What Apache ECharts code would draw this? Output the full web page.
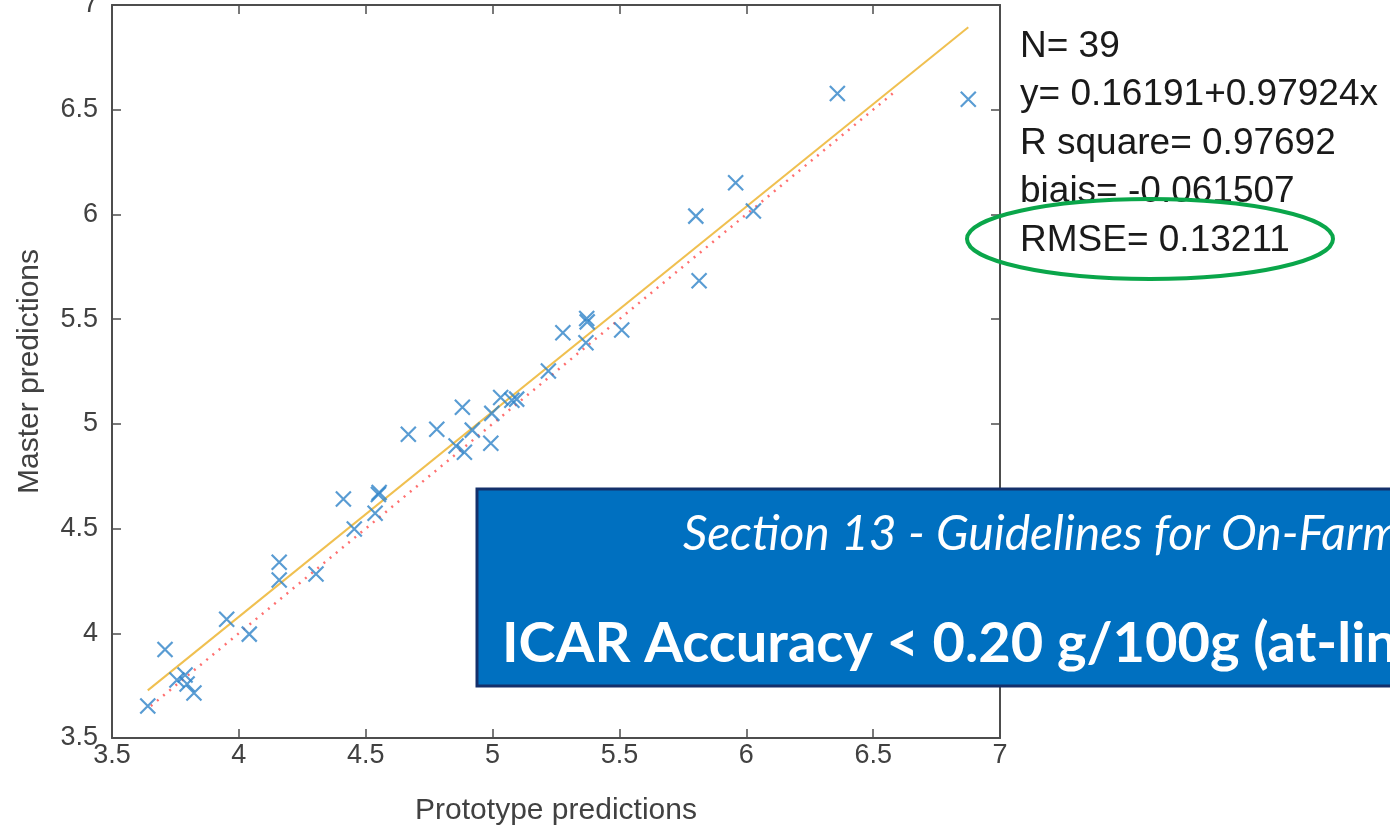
<!DOCTYPE html>
<html>
<head>
<meta charset="utf-8">
<title>Master vs Prototype predictions</title>
<script src="https://cdn.jsdelivr.net/npm/echarts@6/dist/echarts.min.js"></script>
<style>
  html, body { margin: 0; padding: 0; background: #fff; }
  #chart { width: 1390px; height: 828px; }
</style>
</head>
<body>
<div id="chart"></div>
<script>
  // prototype (x) vs master (y) predictions
  const prototypeValues = [
    3.641, 3.709, 3.952, 4.041, 3.756, 3.788, 3.796, 3.823,
    4.159, 4.159, 4.304, 4.455, 4.537, 4.550, 4.553, 4.412,
    4.668, 4.780, 4.881, 4.920, 4.856, 4.889, 4.993, 4.997,
    5.032, 5.076, 5.095, 5.220, 5.277, 5.368, 5.371, 5.373,
    5.509, 5.801, 5.814, 5.958, 6.028, 6.359, 6.875
  ]
  const masterValues = [
    3.653, 3.923, 4.067, 3.996, 3.777, 3.801, 3.758, 3.715,
    4.339, 4.254, 4.283, 4.498, 4.573, 4.663, 4.672, 4.641,
    4.950, 4.974, 5.079, 4.970, 4.894, 4.864, 4.907, 5.050,
    5.126, 5.113, 5.118, 5.252, 5.435, 5.387, 5.503, 5.487,
    5.448, 5.992, 5.683, 6.151, 6.016, 6.577, 6.550
  ]
  const fitIntercept = 0.16191
  const fitSlope = 0.97924
  const statLines = [
    'N= 39',
    'y= 0.16191+0.97924x',
    'R square= 0.97692',
    'biais= -0.061507',
    'RMSE= 0.13211'
  ]

  const points = prototypeValues.map((x, i) => [x, masterValues[i]])
  const xMin = Math.min(...prototypeValues)
  const xMax = Math.max(...prototypeValues)
  const yMin = Math.min(...masterValues)
  const yMax = Math.max(...masterValues)
  const fitLine = [
    [xMin, fitIntercept + fitSlope * xMin],
    [xMax, fitIntercept + fitSlope * xMax]
  ]
  const identityLine = [[yMin, yMin], [yMax, yMax]]

  const axisColor = '#4d4d4d'
  const fontName = 'Liberation Sans, Arial, sans-serif'
  const labelFont = { color: '#414141', fontSize: 27, fontFamily: fontName }
  const nameFont = { color: '#414141', fontSize: 30, fontFamily: fontName }

  const baseAxis = {
    type: 'value',
    min: 3.5,
    max: 7,
    interval: 0.5,
    splitLine: { show: false },
    axisLine: { show: true, onZero: false, lineStyle: { color: axisColor, width: 2 } },
    axisTick: { show: true, inside: true, length: 9, lineStyle: { color: axisColor, width: 1.5 } }
  }

  const chart = echarts.init(document.getElementById('chart'))
  chart.setOption({
    animation: false,
    backgroundColor: '#fff',
    grid: { left: 112, right: 390, top: 5, bottom: 90, containLabel: false, outerBoundsMode: 'none' },
    xAxis: [
      Object.assign({}, baseAxis, {
        position: 'bottom',
        name: 'Prototype predictions',
        nameLocation: 'middle',
        nameGap: 58,
        nameTextStyle: nameFont,
        axisLabel: Object.assign({ margin: 4, formatter: v => String(v) }, labelFont)
      }),
      Object.assign({}, baseAxis, { position: 'top', axisLabel: { show: false } })
    ],
    yAxis: [
      Object.assign({}, baseAxis, {
        position: 'left',
        name: 'Master predictions',
        nameLocation: 'middle',
        nameGap: 67,
        nameRotate: 90,
        nameTextStyle: nameFont,
        axisLabel: Object.assign({ margin: 14, formatter: v => String(v) }, labelFont)
      }),
      Object.assign({}, baseAxis, { position: 'right', axisLabel: { show: false } })
    ],
    series: [
      {
        type: 'line',
        data: identityLine,
        symbol: 'none',
        lineStyle: { color: '#ff7070', width: 2.5, type: [2, 6] },
        z: 2
      },
      {
        type: 'line',
        data: fitLine,
        symbol: 'none',
        lineStyle: { color: '#f0c050', width: 2 },
        z: 3
      },
      {
        type: 'scatter',
        data: points,
        symbol: 'path://M0,0L10,10M10,0L0,10',
        symbolSize: 15,
        itemStyle: { color: 'rgba(0,0,0,0)', borderColor: '#2f83c8', borderWidth: 2.2 },
        z: 4
      }
    ],
    graphic: [
      {
        type: 'group',
        left: 1020,
        top: 28,
        children: statLines.map((t, i) => ({
          type: 'text',
          x: 0,
          y: i * 48.5,
          style: {
            text: t,
            fill: '#1a1a1a',
            font: '37px "Liberation Sans", Arial, sans-serif'
          }
        }))
      },
      {
        type: 'ellipse',
        shape: { cx: 1150, cy: 239, rx: 183, ry: 40 },
        style: { fill: 'none', stroke: '#0aa64a', lineWidth: 4 },
        z: 10
      },
      {
        type: 'rect',
        shape: { x: 477, y: 489, width: 940, height: 197 },
        style: { fill: '#0070c0', stroke: '#14306b', lineWidth: 3 },
        z: 20
      },
      {
        type: 'text',
        x: 683,
        y: 511,
        z: 21,
        style: {
          text: 'Section 13 - Guidelines for On-Farm',
          fill: '#fff',
          font: 'italic 48px Lato, "Open Sans", sans-serif'
        }
      },
      {
        type: 'text',
        x: 502,
        y: 616,
        z: 21,
        style: {
          text: 'ICAR Accuracy < 0.20 g/100g (at-line)',
          fill: '#fff',
          font: 'bold 56px Lato, "Open Sans", sans-serif'
        }
      }
    ]
  })
</script>
</body>
</html>
